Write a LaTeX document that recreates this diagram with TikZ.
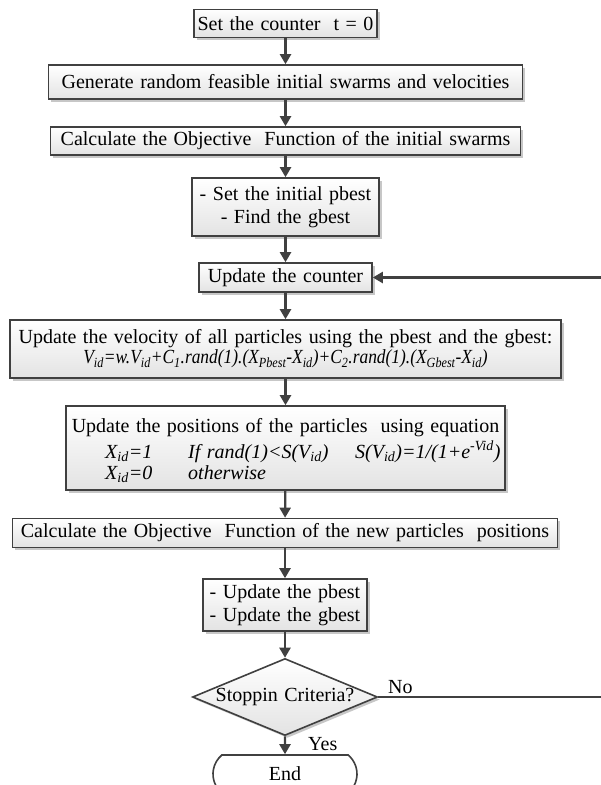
\documentclass[tikz,border=0pt]{standalone}
\usepackage{graphicx}
\usepackage{fontspec}
\setmainfont{Liberation Serif}[WordSpace=1.3]
\usetikzlibrary{arrows.meta,shapes.geometric,shapes.misc,shadows}
\definecolor{linecol}{HTML}{404040}
\newcommand{\mysb}[1]{\textsubscript{#1}}
\newcommand{\myfont}{\fontsize{20}{23}\selectfont}
\begin{document}
\begin{tikzpicture}[x=1pt,y=-1pt,
  box/.style={draw=linecol, line width=1.6pt, top color=white, bottom color=gray!22,
    drop shadow={shadow xshift=2.5pt, shadow yshift=-2.5pt, fill=black, opacity=0.22},
    inner sep=0pt, align=center, font=\myfont},
  arr/.style={draw=linecol, line width=2.2pt, -{Triangle[length=10pt,width=11pt]}},
  lbl/.style={inner sep=0pt, font=\myfont}]
\useasboundingbox (0,0) rectangle (601,785);

\node[box, minimum width=183pt, minimum height=28pt] (b1) at (285.5,23.5) {Set the counter~ t = 0};
\node[box, minimum width=474pt, minimum height=34pt] (b2) at (285.5,82) {Generate random feasible initial swarms and velocities};
\node[box, minimum width=470pt, minimum height=28pt] (b3) at (285.5,141) {Calculate the Objective~ Function of the initial swarms};
\node[box, minimum width=187pt, minimum height=58pt] (b4) at (285.5,207) {- Set the initial pbest\\- Find the gbest};
\node[box, minimum width=173pt, minimum height=29pt] (b5) at (285.5,277.5) {Update the counter};
\node[box, minimum width=551pt, minimum height=58pt] (b6) at (285.5,349) {Update the velocity of all particles using the pbest and the gbest:\\[-3pt]
 \scalebox{0.87}[1]{\textit{V\mysb{id}=w.V\mysb{id}+C\mysb{1}.rand(1).(X\mysb{Pbest}-X\mysb{id})+C\mysb{2}.rand(1).(X\mysb{Gbest}-X\mysb{id})}}};
\node[box, minimum width=439pt, minimum height=84pt] (b7) at (285.5,448) {};
\node[lbl, anchor=base] (t7a) at (285.5,432) {Update the positions of the particles~ using equation};
\node[lbl, anchor=base west] (t7b) at (105,458) {\textit{X\mysb{id}=1}};
\node[lbl, anchor=base west] (t7c) at (188,458) {\textit{If rand(1)<S(V\mysb{id})}};
\node[lbl, anchor=base west] (t7d) at (355,458) {\textit{S(V\mysb{id})=1/(1+e\textsuperscript{-Vid})}};
\node[lbl, anchor=base west] (t7e) at (105,479) {\textit{X\mysb{id}=0}};
\node[lbl, anchor=base west] (t7f) at (188,479) {\textit{otherwise}};
\node[box, minimum width=545pt, minimum height=29pt] (b8) at (285,533) {Calculate the Objective~ Function of the new particles~ positions};
\node[box, minimum width=164pt, minimum height=52pt, align=left] (b9) at (285,605) {- Update the pbest\\- Update the gbest};
\node[box, diamond, minimum width=185pt, minimum height=77pt, shape aspect=2.4] (d) at (285,697) {Stoppin Criteria?};
\node[draw=linecol, line width=1.6pt, fill=white, rounded rectangle, rounded rectangle arc length=100,
  minimum width=144pt, minimum height=38pt, inner sep=0pt, font=\myfont] (e) at (285,774) {End};

\node[lbl, anchor=base west] (no) at (388,693) {No};
\node[lbl, anchor=base west] (yes) at (308,750) {Yes};
\coordinate (loop) at (640,0);

\draw[arr] (b1) -- (b2);
\draw[arr] (b2) -- (b3);
\draw[arr] (b3) -- (b4);
\draw[arr] (b4) -- (b5);
\draw[arr] (b5) -- (b6);
\draw[arr] (b6) -- (b7);
\draw[arr] (b7) -- (b8);
\draw[arr] (b8) -- (b9);
\draw[arr] (b9) -- (d);
\draw[arr] (d) -- (e);
\draw[arr] (d.east) -| (loop |- b5.east) -- (b5.east);
\end{tikzpicture}
\end{document}
